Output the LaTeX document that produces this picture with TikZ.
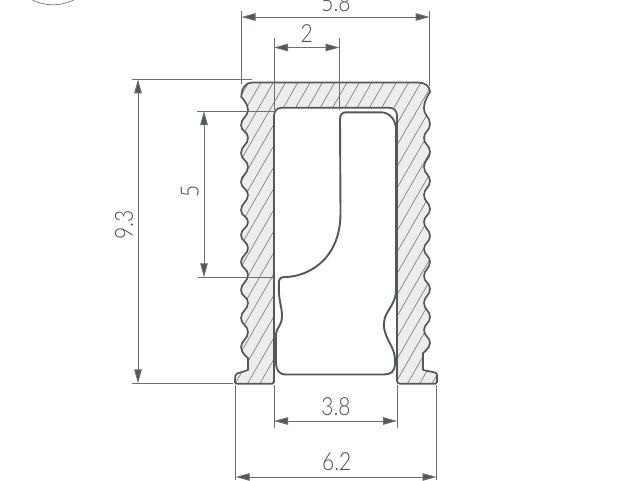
\documentclass[tikz,border=0pt]{standalone}
\usepackage{fontspec}
\setmainfont{Lato}[UprightFont=* Light,FakeStretch=0.84]
\usetikzlibrary{arrows.meta}
\definecolor{ink}{HTML}{54585B}
\definecolor{dimc}{HTML}{6A6F72}
\definecolor{hatchc}{HTML}{7E8285}
\definecolor{bodyc}{HTML}{ECEDED}
\definecolor{txtc}{HTML}{4A4E51}
\tikzset{
  dimline/.style={draw=dimc,line width=0.9pt,{Triangle[length=14pt,width=7.5pt,fill=ink]}-{Triangle[length=14pt,width=7.5pt,fill=ink]}},
  extline/.style={draw=dimc,line width=0.7pt},
  label/.style={text=txtc,font=\fontsize{25}{25}\selectfont,inner sep=0pt},
  contour/.style={draw=ink,line width=1.7pt,line join=round},
}
\newcommand{\profilepath}{
  (252,82.5) -- (418,82.5) .. controls (425,82.5) and (430,86) .. (430,92)
  -- plot[smooth,tension=0.85] coordinates {(430,92)(424,108)(430,124)(424,138)(430,152)(424,167)(430,181)(424,195)(430,209)(424,222)(430,236)(424,249)(430,262)(424,276)(430,289)(424,303)(430,317)(424,330)(430,343)(423,353)}
  -- (423,370) -- (435,372.5) .. controls (436.5,373) and (437,374) .. (437,375)
  -- (437,382) .. controls (437,383.3) and (436.5,383.7) .. (435.5,383.7)
  -- (400,383.7) .. controls (398,383.7) and (397,382.5) .. (397,381)
  -- (397,116) .. controls (397,111) and (394,107.7) .. (389,107.7)
  -- (282,107.7) .. controls (277,107.7) and (274,111) .. (274,116)
  -- (274,382) .. controls (274,383.2) and (273.5,383.7) .. (272.5,383.7)
  -- (237,383.7) .. controls (235.8,383.7) and (235,383.2) .. (235,382)
  -- (235.2,376) .. controls (235.3,374.5) and (236,374) .. (237,373.6)
  -- (248,370) -- (248,358)
  -- plot[smooth,tension=0.85] coordinates {(248,358)(241,347)(248,332)(241,318)(248,303)(241,290)(248,275)(241,262)(248,248)(241,235)(248,222)(241,210)(248,195)(241,182)(248,167)(241,153)(248,138)(241,125)(248,110)(241.3,97)}
  .. controls (241.3,88) and (246,82.5) .. (252,82.5) -- cycle
}
\begin{document}
\begin{tikzpicture}[x=1pt,y=-1pt]
\useasboundingbox (0,0) rectangle (640,480);
\clip (0,0) rectangle (640,480);
\fill[white] (0,0) rectangle (640,480);
% badge arc at the top
\draw[draw=hatchc,line width=0.8pt] (53,-42) circle (46.8);
% profile body
\fill[bodyc] \profilepath;
\begin{scope}
  \clip \profilepath;
  \foreach \k in {-20,...,20} {
    \draw[draw=hatchc,line width=0.7pt] ({247.3+12.3*\k},384) -- ({247.3+12.3*\k+175},80);
  }
\end{scope}
\draw[contour] \profilepath;
% insert
\draw[contour,line width=1.9pt]
  (346,112.3) -- (381,112.3) .. controls (389,112.3) and (396,119) .. (396,130)
  -- (396,290) .. controls (396,300) and (391,306) .. (387,313)
  .. controls (383,320) and (383,327) .. (386,335)
  .. controls (389,343) and (395,350) .. (395,360)
  -- (395,364) .. controls (395,371) and (391,374.5) .. (384,374.5)
  -- (286,374.5) .. controls (279,374.5) and (276,370) .. (276,363)
  -- (276,334) .. controls (276,328) and (282,326) .. (282,316)
  .. controls (282,308) and (278.8,300) .. (278.8,290)
  -- (278.8,283) .. controls (278.8,279) and (280.5,277) .. (285,277)
  .. controls (305,277) and (340.5,262) .. (340.5,213)
  -- (340,119) .. controls (340,115) and (342,112.3) .. (346,112.3) -- cycle;
% extension lines
\draw[extline] (241.5,11) -- (241.5,84);
\draw[extline] (429.6,11) -- (429.6,86);
\draw[extline] (274,38) -- (274,110);
\draw[extline] (339.5,38) -- (339.5,110);
\draw[extline] (131.5,79.3) -- (252,79.3);
\draw[extline] (131.5,383.4) -- (233,383.4);
\draw[extline] (197,111) -- (274,111);
\draw[extline] (197.5,277.3) -- (274,277.3);
\draw[extline] (274,385) -- (274,428);
\draw[extline] (397,385) -- (397,428);
\draw[extline] (235.7,385) -- (235.7,480);
\draw[extline] (436.5,385) -- (436.5,480);
% dimension lines
\draw[dimline] (241.5,17) -- (429.6,17);
\draw[dimline] (274,47.5) -- (339.5,47.5);
\draw[dimline] (138,79.3) -- (138,383.4);
\draw[dimline] (204,111) -- (204,277.3);
\draw[dimline] (274,421) -- (397,421);
\draw[dimline] (235.7,477) -- (436.5,477);
% labels
\node[label] (t58) at (336,2.5) {5.8};
\node[label] (t2) at (306.7,33.3) {2};
\node[label,rotate=90] (t93) at (124,225) {9.3};
\node[label,rotate=90] (t5) at (190,191) {5};
\node[label] (t38) at (336,406.7) {3.8};
\node[label] (t62) at (336.7,461.7) {6.2};
\end{tikzpicture}
\end{document}
